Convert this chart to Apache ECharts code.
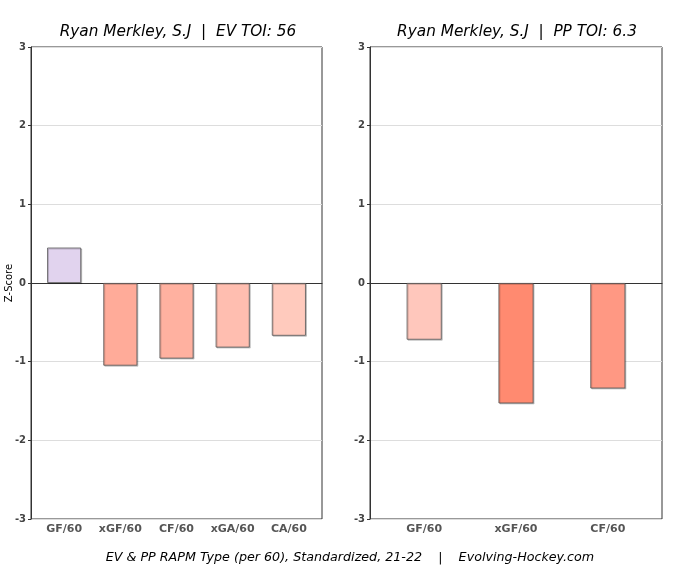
<!DOCTYPE html>
<html><head><meta charset="utf-8">
<script src="https://cdn.jsdelivr.net/npm/echarts@6/dist/echarts.min.js"></script>
<style>html,body{margin:0;padding:0;background:#fff}#c{width:676px;height:577px}</style>
</head><body><div id="c"></div>
<script>
var evCategories = ['GF/60','xGF/60','CF/60','xGA/60','CA/60'];
var evValues = [0.45, -1.05, -0.96, -0.82, -0.67];
var evColors = ['#E1D3EE','#FFAB99','#FFB1A0','#FFBEB0','#FFCABD'];
var ppCategories = ['GF/60','xGF/60','CF/60'];
var ppValues = [-0.72, -1.53, -1.34];
var ppColors = ['#FFC7BC','#FF8A70','#FF9883'];
var yTicks = [-3,-2,-1,0,1,2,3];

function mk(vals, cols){
  return vals.map(function(v,i){return {value:[i,v],itemStyle:{color:cols[i]}};});
}
var chart = echarts.init(document.getElementById('c'));
var ff = 'DejaVu Sans';
function yAxis(gi){
  return {type:'value',gridIndex:gi,min:yTicks[0],max:yTicks[yTicks.length-1],interval:1,
    axisLine:{show:true,onZero:false,lineStyle:{color:'#333',width:1}},
    axisTick:{show:true,length:3,lineStyle:{color:'#333'}},
    axisLabel:{fontFamily:ff,fontSize:10,fontWeight:'bold',color:'#444',margin:5},
    splitLine:{show:true,lineStyle:{color:'#dddddd',width:1}}};
}
function xAxis(gi,cats){
  var idx = cats.map(function(c,i){return i;});
  return {type:'value',gridIndex:gi,min:-0.59,max:cats.length-1+0.59,
    axisLine:{show:true,onZero:true,lineStyle:{color:'#333',width:1}},
    axisTick:{show:false},
    splitLine:{show:false},
    axisLabel:{fontFamily:ff,fontSize:11,fontWeight:'bold',color:'#555',margin:5,
      customValues:idx,
      formatter:function(v){var i=Math.round(v);return (Math.abs(v-i)<1e-6&&cats[i])?cats[i]:'';}},
    position:'bottom'};
}
var barStyle = {borderColor:'#555',borderWidth:0.8,shadowColor:'rgba(0,0,0,0.22)',shadowOffsetX:1,shadowOffsetY:1,shadowBlur:0};
var tStyle = {fontFamily:ff,fontSize:15.3,fontStyle:'italic',fill:'#000',align:'center',verticalAlign:'middle'};
chart.setOption({
  animation:false,
  graphic:[
    {type:'text',x:178,y:32.5,style:Object.assign({text:'Ryan Merkley, S.J  |  EV TOI: 56'},tStyle)},
    {type:'text',x:517,y:32.5,style:Object.assign({text:'Ryan Merkley, S.J  |  PP TOI: 6.3'},tStyle)},
    {type:'text',x:350,y:558,style:{text:'EV & PP RAPM Type (per 60), Standardized, 21-22    |    Evolving-Hockey.com',
      fontFamily:ff,fontSize:12.7,fontStyle:'italic',fill:'#000',align:'center',verticalAlign:'middle'}},
    {type:'text',x:9,y:283,rotation:Math.PI/2,
      style:{text:'Z-Score',fontFamily:ff,fontSize:10,fill:'#000',align:'center',verticalAlign:'middle'}}
  ],
  grid:[
    {left:31,top:47,width:291,height:472,show:true,borderColor:'#333',borderWidth:1,backgroundColor:'transparent'},
    {left:370,top:47,width:292,height:472,show:true,borderColor:'#333',borderWidth:1,backgroundColor:'transparent'}
  ],
  xAxis:[xAxis(0,evCategories),xAxis(1,ppCategories)],
  yAxis:[yAxis(0),yAxis(1)],
  series:[
    {type:'bar',xAxisIndex:0,yAxisIndex:0,data:mk(evValues,evColors),barWidth:34,itemStyle:barStyle},
    {type:'bar',xAxisIndex:1,yAxisIndex:1,data:mk(ppValues,ppColors),barWidth:35,itemStyle:barStyle}
  ]
});
</script></body></html>
